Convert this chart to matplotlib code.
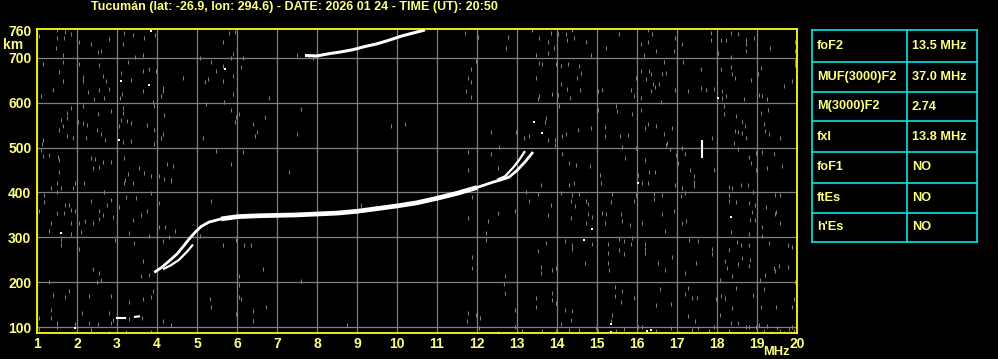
import matplotlib
matplotlib.use('Agg')
from matplotlib import pyplot as plt

plt.rcParams['font.family'] = ['Liberation Sans', 'DejaVu Sans']

title = 'Tucumán (lat: -26.9, lon: 294.6) - DATE: 2026 01 24 - TIME (UT): 20:50'

freq_ticks = list(range(1, 21))
height_ticks = [100, 200, 300, 400, 500, 600, 700, 760]

# F trace, MHz / km
f2_freq = [3.93, 4.1, 4.3, 4.5, 4.65, 4.8, 4.95, 5.1, 5.3, 5.6, 6.0, 6.5, 7.0, 7.5, 8.0, 8.5,
           9.0, 9.5, 10.0, 10.5, 11.0, 11.5, 12.0, 12.4, 12.6, 12.8, 13.0, 13.2, 13.4]
f2_height = [222, 232, 247, 263, 279, 296, 311, 324, 334, 341, 346, 348, 349, 350, 352, 354,
             358, 364, 370, 377, 387, 398, 411, 423, 428, 434, 449, 468, 490]

# split branches
low_freq = [4.15, 4.35, 4.55, 4.75, 4.9]
low_height = [229, 238, 250, 268, 284]
high_freq = [12.5, 12.7, 12.9, 13.05, 13.2]
high_height = [428, 436, 455, 472, 492]

# second hop
hop_freq = [7.7, 8.0, 8.3, 8.6, 8.9, 9.2, 9.5, 9.8, 10.1, 10.4, 10.7]
hop_height = [705, 704, 709, 713, 718, 725, 731, 739, 748, 755, 762]

# weak E echo
e_freq = [3.0, 3.2, 3.45, 3.55]
e_height = [120, 120, 123, 124]

# short vertical echo
bar_freq = [17.63, 17.63]
bar_height = [476, 517]

# white single pixels
spots = [(3.85, 760), (3.1, 649), (3.8, 640), (3.04, 516), (5.7, 674), (18.03, 610),
         (13.43, 556), (13.63, 532), (1.6, 310), (1.96, 99), (16.03, 422), (18.34, 345),
         (14.88, 319), (14.68, 295), (15.34, 107), (15.34, 90), (16.26, 92), (16.34, 93)]

# gray noise pixels
noise = [
    (1.5, 761), (1.7, 758), (1.85, 752), (1.04, 748), (1.5, 743), (1.68, 743), (2.04, 734),
    (2.79, 741), (2.35, 730), (1.48, 722), (1.64, 707), (2.52, 713), (2.6, 716), (3.18, 756),
    (3.39, 751), (3.68, 743), (3.95, 751), (3.14, 730), (3.64, 707), (3.45, 701), (3.27, 691),
    (1.14, 687), (1.64, 690), (2.04, 685), (1.54, 668), (1.64, 648), (2.14, 657), (2.14, 648),
    (2.54, 683), (2.64, 660), (2.72, 648), (2.79, 631), (2.56, 629), (3.1, 666), (3.35, 651),
    (3.64, 670), (3.8, 674), (3.98, 670), (4.14, 633), (4.14, 625), (4.1, 614), (1.39, 628),
    (1.1, 614), (2.27, 623), (2.43, 607), (2.68, 610), (3.12, 620), (3.64, 625), (3.08, 610),
    (3.89, 601), (3.93, 593), (1.85, 588), (1.74, 577), (1.74, 566), (1.6, 562), (2.14, 593),
    (2.52, 575), (2.85, 581), (3.16, 588), (3.14, 577), (3.24, 560), (3.35, 554), (3.1, 562),
    (2.14, 554), (2.24, 551), (2.02, 557), (1.64, 549), (1.54, 540), (2.49, 540), (3.04, 549),
    (3.74, 551), (3.93, 540), (4.18, 572), (4.14, 530), (4.1, 521), (1.14, 517), (1.13, 507),
    (1.75, 526), (1.89, 521), (2.22, 521), (2.6, 530), (2.71, 517), (3.16, 512), (3.35, 515),
    (3.93, 507), (1.1, 495), (1.16, 482), (1.29, 484), (1.52, 480), (1.54, 472), (2.35, 476),
    (2.46, 474), (2.64, 467), (2.85, 467), (2.56, 457), (2.39, 455), (3.18, 476), (3.27, 440),
    (3.54, 454), (3.68, 443), (3.85, 437), (4.06, 437), (4.24, 463), (4.39, 460), (1.54, 445),
    (4.18, 431), (4.35, 428), (3.2, 428),
    (5.08, 700), (5.35, 691), (5.64, 734), (5.79, 756), (5.96, 758), (5.89, 709), (5.85, 700),
    (6.14, 699), (5.64, 681), (6.1, 679), (5.47, 670), (5.27, 653), (5.2, 646), (5.89, 660),
    (5.64, 648), (4.64, 655), (5.89, 619), (6.81, 610), (5.68, 601), (5.23, 597), (5.85, 584),
    (6.04, 575), (5.98, 567), (5.96, 557), (6.41, 553), (6.51, 534), (6.45, 526), (6.7, 569),
    (5.14, 521), (7.6, 586), (7.49, 530), (5.48, 493), (6.14, 490), (5.85, 463), (7.29, 445),
    (9.85, 549), (10.2, 552), (7.5, 707), (7.8, 703), (7.9, 699),
    (11.69, 756), (12.03, 746), (12.78, 747), (12.73, 721), (13.38, 761), (13.84, 754),
    (13.55, 743), (13.78, 734), (13.93, 722), (13.78, 711), (13.48, 707), (14.03, 752),
    (14.23, 752), (14.38, 761), (14.26, 739), (14.43, 745), (14.73, 734), (14.84, 707),
    (15.23, 721), (15.55, 752), (16.0, 719), (16.28, 761), (16.38, 752), (16.09, 730),
    (16.28, 734), (16.18, 707), (16.48, 716), (16.95, 745), (17.13, 730), (16.93, 716),
    (17.84, 756), (17.84, 739), (18.01, 746), (18.09, 739), (18.22, 739), (18.34, 756),
    (18.53, 752), (18.72, 739), (18.73, 730), (18.72, 715), (18.93, 743), (19.33, 722),
    (19.94, 734), (19.94, 716), (18.03, 711), (18.34, 701), (11.98, 693), (11.84, 674),
    (11.78, 655), (11.84, 646), (11.73, 625), (11.84, 612), (13.48, 655), (13.55, 614),
    (13.53, 607), (13.87, 619), (13.55, 689), (13.63, 687), (13.97, 687), (14.09, 681),
    (14.28, 685), (14.55, 681), (14.59, 666), (14.51, 654), (14.57, 629), (14.09, 642),
    (14.26, 631), (14.03, 618), (14.33, 610), (14.05, 592), (15.03, 627), (15.13, 629),
    (15.03, 584), (15.47, 592), (15.51, 581), (15.88, 575), (16.09, 584), (15.84, 629),
    (15.93, 614), (15.97, 654), (16.09, 670), (16.22, 652), (16.3, 670), (16.34, 663),
    (16.4, 642), (16.45, 634), (16.34, 625), (16.63, 663), (16.55, 642), (16.68, 691),
    (16.73, 666), (16.09, 610), (16.6, 601), (16.95, 629), (17.28, 625), (17.15, 691),
    (17.59, 674), (17.59, 633), (17.73, 629), (17.92, 631), (18.13, 625), (18.13, 610),
    (18.23, 614), (18.09, 676), (18.34, 679), (18.37, 663), (18.45, 655), (18.68, 607),
    (18.84, 651), (19.03, 663), (19.09, 678), (19.05, 618), (19.13, 614), (19.24, 607),
    (19.68, 637), (19.88, 648), (19.95, 693), (19.95, 684), (18.18, 592), (18.18, 575),
    (18.48, 570), (18.63, 558), (18.7, 549), (18.44, 536), (18.53, 535), (18.62, 533),
    (18.73, 521), (18.43, 510), (18.53, 497), (19.09, 577), (19.28, 584), (19.18, 552),
    (19.2, 537), (19.3, 530), (19.58, 521), (19.97, 536), (17.87, 521), (16.88, 543),
    (16.68, 530), (16.76, 510), (16.73, 506), (16.48, 547), (16.2, 543), (16.28, 552),
    (15.78, 527), (15.57, 525), (15.2, 545), (15.2, 525), (14.84, 543), (14.53, 540),
    (14.22, 530), (14.13, 525), (13.95, 517), (13.95, 506), (13.78, 517), (13.72, 566),
    (13.69, 558), (13.3, 525), (13.18, 521), (12.55, 502), (12.34, 534), (12.98, 534),
    (15.63, 502), (15.97, 500), (16.82, 497), (17.13, 498), (11.78, 490), (12.34, 485),
    (14.13, 485), (14.3, 465), (14.48, 461), (14.82, 460), (15.08, 439), (15.7, 476),
    (16.2, 472), (16.03, 439), (16.3, 446), (16.45, 446), (16.97, 484), (17.03, 465),
    (17.2, 485), (17.32, 450), (17.43, 437), (17.93, 450), (18.8, 478), (18.84, 465),
    (18.98, 487), (19.13, 490), (19.43, 485), (19.63, 460), (19.26, 454), (18.98, 450),
    (11.78, 450), (12.53, 455), (12.76, 439),
    (1.35, 409), (1.49, 420), (1.96, 422), (2.18, 420), (3.18, 422), (3.39, 422), (1.18, 394),
    (1.49, 401), (1.6, 409), (1.89, 409), (2.68, 401), (3.23, 390), (3.48, 387), (3.85, 398),
    (1.18, 379), (1.71, 372), (1.79, 372), (2.35, 381), (2.74, 372), (2.85, 383), (3.04, 368),
    (4.04, 377), (1.04, 359), (1.49, 354), (1.68, 354), (1.85, 362), (1.96, 359), (2.54, 359),
    (2.64, 349), (2.91, 346), (3.39, 338), (3.6, 349), (3.74, 359), (1.35, 332), (1.86, 332),
    (2.04, 331), (2.21, 336), (2.39, 331), (2.56, 340), (1.29, 314), (1.85, 308), (2.1, 312),
    (3.0, 310), (3.29, 310), (3.81, 302), (4.04, 322), (4.21, 322), (4.31, 301), (4.46, 314),
    (1.6, 295), (1.6, 282), (2.04, 275), (2.96, 295), (3.43, 287), (4.14, 292), (5.08, 304),
    (5.64, 282), (6.18, 282), (6.35, 282), (5.98, 295), (3.64, 247), (2.39, 230), (2.56, 220),
    (3.6, 215), (3.81, 217), (6.64, 230), (5.35, 381), (9.1, 372), (1.29, 200), (2.49, 200),
    (2.6, 205), (1.79, 180), (1.71, 168), (1.39, 172), (2.29, 170), (2.85, 170), (3.64, 163),
    (3.85, 168), (3.89, 180), (3.29, 155), (1.35, 138), (2.12, 131), (2.79, 131), (1.04, 120),
    (1.35, 120), (1.49, 110), (1.49, 101), (1.96, 108), (2.31, 110), (2.52, 108), (2.85, 110),
    (4.14, 114), (4.35, 105), (1.04, 96), (1.96, 88), (2.35, 93), (2.79, 88), (3.23, 90),
    (3.85, 90), (4.35, 426), (5.33, 163), (5.35, 145), (6.04, 215), (6.04, 195), (6.06, 168),
    (6.1, 163), (5.98, 129), (6.41, 137), (6.72, 145), (6.41, 114), (7.6, 202), (8.74, 105),
    (2.9, 115), (3.3, 118), (3.62, 121),
    (13.59, 416), (14.3, 416), (14.43, 422), (15.09, 420), (16.13, 422), (16.28, 422),
    (16.95, 416), (17.13, 411), (17.43, 414), (17.43, 424), (18.3, 413), (18.38, 409),
    (18.59, 416), (18.78, 416), (18.9, 401), (19.45, 394), (19.58, 394), (13.22, 401),
    (13.53, 396), (14.09, 399), (14.38, 394), (14.55, 396), (15.38, 396), (15.97, 394),
    (16.43, 396), (16.63, 394), (17.09, 392), (17.2, 398), (18.3, 394), (11.88, 389),
    (13.3, 381), (14.34, 381), (14.72, 381), (14.78, 375), (13.84, 372), (14.45, 369),
    (15.34, 379), (15.93, 381), (16.43, 386), (18.3, 381), (18.48, 379), (18.8, 377),
    (18.95, 372), (19.23, 368), (12.53, 354), (12.95, 359), (13.78, 349), (14.78, 353),
    (14.87, 346), (15.13, 354), (15.23, 353), (15.59, 353), (16.63, 351), (16.93, 359),
    (18.87, 357), (19.48, 357), (19.45, 353), (11.78, 342), (12.28, 337), (14.34, 344),
    (14.72, 331), (15.2, 332), (15.63, 337), (15.82, 327), (16.13, 332), (17.13, 332),
    (17.23, 337), (18.83, 338), (18.95, 338), (19.58, 331), (19.13, 323), (12.23, 310),
    (12.23, 295), (15.88, 299), (16.69, 314), (18.34, 312), (18.8, 308), (19.13, 304),
    (13.73, 287), (14.2, 292), (14.38, 284), (14.38, 275), (14.88, 286), (15.28, 286),
    (15.28, 265), (15.3, 228), (15.55, 297), (15.55, 271), (15.68, 292), (15.68, 262),
    (15.84, 286), (16.2, 286), (16.2, 275), (16.2, 265), (17.53, 292), (17.3, 295),
    (17.88, 275), (17.88, 262), (18.3, 272), (18.51, 290), (18.59, 282), (18.8, 284),
    (18.82, 250), (19.3, 287), (19.78, 284), (19.88, 278), (13.53, 269), (11.88, 256),
    (11.88, 232), (13.59, 235), (13.59, 220), (13.88, 228), (13.97, 232), (14.7, 243),
    (15.0, 256), (15.28, 243), (16.53, 243), (16.7, 228), (16.88, 257), (17.2, 220),
    (17.48, 243), (18.2, 247), (18.26, 232), (18.53, 241), (18.62, 255), (18.8, 237),
    (19.43, 232), (19.45, 225), (19.55, 237), (19.78, 235), (19.21, 217), (19.08, 205),
    (19.95, 200), (18.38, 215), (18.07, 205), (12.7, 215), (12.68, 196), (12.7, 175),
    (12.95, 138), (11.78, 131), (11.76, 114), (11.97, 128), (12.07, 120), (13.88, 175),
    (13.88, 160), (13.48, 166), (13.48, 145), (13.98, 153), (14.2, 138), (14.38, 137),
    (14.09, 107), (14.34, 116), (15.0, 192), (15.45, 189), (15.63, 181), (15.45, 170),
    (15.59, 155), (15.38, 128), (15.34, 114), (15.93, 165), (16.48, 150), (16.58, 185),
    (16.84, 151), (17.2, 174), (17.28, 187), (17.38, 166), (17.5, 166), (17.28, 125),
    (17.45, 114), (17.97, 163), (18.09, 170), (18.07, 128), (18.2, 166), (18.37, 142),
    (18.48, 187), (18.9, 172), (19.18, 185), (19.1, 144), (19.05, 105), (19.48, 145),
    (19.88, 145), (19.92, 163), (18.34, 110), (18.53, 110), (18.8, 101), (19.26, 103),
    (12.05, 99), (12.53, 88), (12.95, 101), (13.13, 92), (13.63, 92), (13.97, 91), (14.3, 93),
    (14.55, 93), (14.97, 99), (15.03, 92), (15.47, 92), (15.68, 96), (16.03, 101),
    (16.13, 101), (16.47, 91), (16.84, 99), (17.05, 88), (17.38, 93), (17.53, 99), (17.8, 91),
    (17.93, 101), (18.3, 92), (18.72, 101), (18.97, 101), (19.18, 92), (19.34, 88),
    (19.5, 99), (19.58, 92), (19.67, 88), (19.8, 96), (19.88, 101), (19.92, 91), (19.84, 88),
]

params = ['foF2', 'MUF(3000)F2', 'M(3000)F2', 'fxI', 'foF1', 'ftEs', "h'Es"]
values = ['13.5 MHz', '37.0 MHz', '2.74', '13.8 MHz', 'NO', 'NO', 'NO']

yellow = '#ffff00'
text_yellow = '#ffff80'
gray = '#808080'
cyan = '#00e6e6'

W, H = 998, 359
fig = plt.figure(figsize=(W / 100, H / 100), dpi=100, facecolor='black')

# plot area in pixels: x 37..797, y 29..333 (from top)
ax = fig.add_axes([37 / W, (H - 333) / H, 760 / W, 304 / H])
ax.set_facecolor('black')
ax.set_xlim(1, 20)
ax.set_ylim(87, 764)

ax.set_xticks(freq_ticks)
ax.set_yticks(height_ticks)
ax.set_yticklabels([str(h) for h in height_ticks])
ax.tick_params(length=0, colors=text_yellow, labelsize=10, pad=4)
ax.tick_params(axis='x', pad=3)
for lab in ax.get_xticklabels() + ax.get_yticklabels():
    lab.set_fontweight('bold')

for f in freq_ticks:
    ax.axvline(f, color=gray, lw=0.9, zorder=1)
for h in height_ticks[:-1]:
    ax.axhline(h, color=gray, lw=0.9, zorder=1)

for s in ax.spines.values():
    s.set_color(yellow)
    s.set_linewidth(1.3)

# noise: 1 px wide, few px tall
noise_f, noise_h = zip(*noise)
ax.plot(noise_f, noise_h, '|', color=gray, markersize=2.4, markeredgewidth=0.75,
        antialiased=False, zorder=2)
spot_f, spot_h = zip(*spots)
ax.plot(spot_f, spot_h, 's', color='white', markersize=1.6, markeredgewidth=0,
        antialiased=False, zorder=3)

ax.plot(f2_freq, f2_height, color='white', lw=2.0, solid_capstyle='butt', zorder=4)
thick = [(f, h) for f, h in zip(f2_freq, f2_height) if 5.4 <= f <= 12.0]
ax.plot([p[0] for p in thick], [p[1] for p in thick], color='white', lw=3.4,
        solid_capstyle='butt', zorder=4)
ax.plot(low_freq, low_height, color='white', lw=1.6, solid_capstyle='butt', zorder=4)
ax.plot(high_freq, high_height, color='white', lw=1.6, solid_capstyle='butt', zorder=4)
ax.plot(hop_freq, hop_height, color='white', lw=2.2, solid_capstyle='butt', zorder=4)
ax.plot(e_freq[:2], e_height[:2], color='white', lw=1.5, zorder=4)
ax.plot(e_freq[2:], e_height[2:], color='white', lw=1.5, zorder=4)
ax.plot(bar_freq, bar_height, color='white', lw=1.5, solid_capstyle='butt', zorder=4)

fig.text(91 / W, 1 - 7 / H, title, color=text_yellow, fontsize=9.0, fontweight='bold',
         ha='left', va='center')
fig.text(13 / W, 1 - 45 / H, 'km', color=text_yellow, fontsize=10, fontweight='bold',
         ha='center', va='center')
fig.text(776 / W, 1 - 352 / H, 'MHz', color=text_yellow, fontsize=9.3, fontweight='bold',
         ha='center', va='center')

# parameter table, in pixel units
tab = fig.add_axes([812 / W, (H - 242) / H, 165 / W, 212 / H])
tab.set_xlim(0, 165)
tab.set_ylim(212, 0)
tab.axis('off')
rows = [0, 32, 62, 91, 122, 153, 183, 212]
for y in rows:
    tab.plot([0, 165], [y, y], color=cyan, lw=1.2, clip_on=False)
for x in [0, 95, 165]:
    tab.plot([x, x], [0, 212], color=cyan, lw=1.2, clip_on=False)
for i, (p, v) in enumerate(zip(params, values)):
    yc = (rows[i] + rows[i + 1]) / 2
    tab.text(5, yc, p, color=text_yellow, fontsize=9.2, fontweight='bold', va='center', ha='left')
    tab.text(100, yc, v, color=text_yellow, fontsize=9.2, fontweight='bold', va='center', ha='left')

fig.savefig('out.png', dpi=100, facecolor='black')
